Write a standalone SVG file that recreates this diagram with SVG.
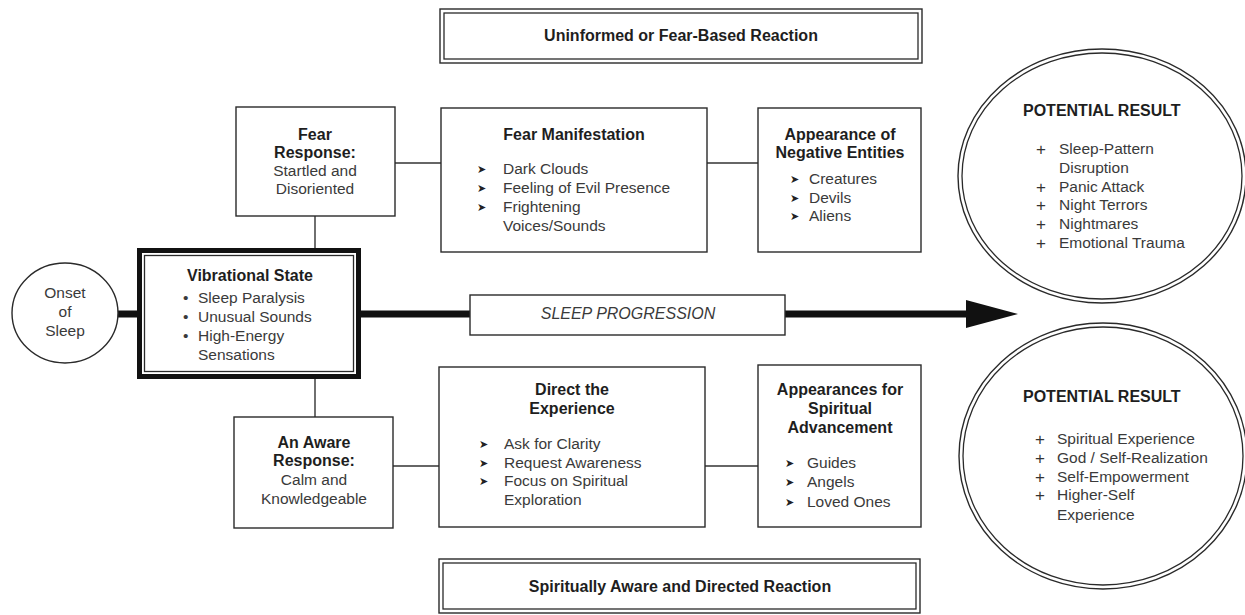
<svg xmlns="http://www.w3.org/2000/svg" width="1245" height="615" viewBox="0 0 1245 615">
<style>
  .box{fill:#fff;stroke:#2a2a2a;stroke-width:1.4}
  .thin{fill:none;stroke:#2a2a2a;stroke-width:1.3}
  .conn{fill:none;stroke:#333;stroke-width:1.4}
  .thick{fill:none;stroke:#111;stroke-width:7}
  text{font-family:"Liberation Sans",Arial,sans-serif;font-size:15.5px;fill:#3a3a3a}
  .b{font-weight:bold;font-size:16px;fill:#1e1e1e}
  .c{text-anchor:middle}
  .ar{font-family:"DejaVu Sans",sans-serif;font-size:11px;fill:#222}
  .pl{font-size:17px;fill:#333}
  .it{font-style:italic;font-size:16px}
</style>
<defs>
  <marker id="head" markerUnits="userSpaceOnUse" markerWidth="54" markerHeight="30" refX="2" refY="15" orient="auto">
    <polygon points="0,1 52,15 0,29" fill="#111"/>
  </marker>
</defs>
<rect width="1245" height="615" fill="#fff"/>

<g id="connectors">
  <path class="thick" d="M116,314 H968" marker-end="url(#head)"/>
  <path class="conn" d="M315,216 V249"/>
  <path class="conn" d="M315,379 V417"/>
  <path class="conn" d="M395,163 H441"/>
  <path class="conn" d="M707,163 H758"/>
  <path class="conn" d="M393,466 H439"/>
  <path class="conn" d="M705,466 H758"/>
</g>

<g id="banner-top">
  <rect class="box" x="440" y="9" width="482" height="54"/>
  <rect class="thin" x="444" y="13" width="474" height="46"/>
  <text class="b c" x="681" y="41">Uninformed or Fear-Based Reaction</text>
</g>

<g id="fear-response">
  <rect class="box" x="236" y="107" width="159" height="109"/>
  <text class="b c" x="315" y="140">Fear</text>
  <text class="b c" x="315" y="158">Response:</text>
  <text class="c" x="315" y="176">Startled and</text>
  <text class="c" x="315" y="194">Disoriented</text>
</g>

<g id="fear-manifestation">
  <rect class="box" x="441" y="108" width="266" height="144"/>
  <text class="b c" x="574" y="140">Fear Manifestation</text>
  <text class="ar" x="477" y="173">➤</text>
  <text x="503" y="174">Dark Clouds</text>
  <text class="ar" x="477" y="192">➤</text>
  <text x="503" y="193">Feeling of Evil Presence</text>
  <text class="ar" x="477" y="211">➤</text>
  <text x="503" y="212">Frightening</text>
  <text x="503" y="231">Voices/Sounds</text>
</g>

<g id="negative-entities">
  <rect class="box" x="758" y="108" width="163" height="144"/>
  <text class="b c" x="840" y="140">Appearance of</text>
  <text class="b c" x="840" y="158">Negative Entities</text>
  <text class="ar" x="790" y="183">➤</text>
  <text x="809" y="184">Creatures</text>
  <text class="ar" x="790" y="202">➤</text>
  <text x="809" y="203">Devils</text>
  <text class="ar" x="790" y="220">➤</text>
  <text x="809" y="221">Aliens</text>
</g>

<g id="onset">
  <ellipse class="box" cx="65" cy="313" rx="53" ry="50"/>
  <text class="c" x="65" y="298">Onset</text>
  <text class="c" x="65" y="317">of</text>
  <text class="c" x="65" y="336">Sleep</text>
</g>

<g id="vibrational-state">
  <rect x="139.5" y="250.5" width="219" height="126" fill="#fff" stroke="#111" stroke-width="5"/>
  <rect class="thin" x="144.5" y="255.5" width="209" height="116"/>
  <text class="b c" x="250" y="281">Vibrational State</text>
  <text x="183" y="303">•</text>
  <text x="198" y="303">Sleep Paralysis</text>
  <text x="183" y="322">•</text>
  <text x="198" y="322">Unusual Sounds</text>
  <text x="183" y="341">•</text>
  <text x="198" y="341">High-Energy</text>
  <text x="198" y="360">Sensations</text>
</g>

<g id="sleep-progression">
  <rect class="box" x="470" y="295" width="315" height="40"/>
  <text class="it c" x="628" y="319">SLEEP PROGRESSION</text>
</g>

<g id="aware-response">
  <rect class="box" x="234" y="417" width="159" height="111"/>
  <text class="b c" x="314" y="448">An Aware</text>
  <text class="b c" x="314" y="466">Response:</text>
  <text class="c" x="314" y="485">Calm and</text>
  <text class="c" x="314" y="504">Knowledgeable</text>
</g>

<g id="direct-experience">
  <rect class="box" x="439" y="367" width="266" height="160"/>
  <text class="b c" x="572" y="395">Direct the</text>
  <text class="b c" x="572" y="414">Experience</text>
  <text class="ar" x="479" y="448">➤</text>
  <text x="504" y="449">Ask for Clarity</text>
  <text class="ar" x="479" y="467">➤</text>
  <text x="504" y="468">Request Awareness</text>
  <text class="ar" x="479" y="485">➤</text>
  <text x="504" y="486">Focus on Spiritual</text>
  <text x="504" y="505">Exploration</text>
</g>

<g id="spiritual-advancement">
  <rect class="box" x="758" y="365" width="163" height="162"/>
  <text class="b c" x="840" y="395">Appearances for</text>
  <text class="b c" x="840" y="414">Spiritual</text>
  <text class="b c" x="840" y="433">Advancement</text>
  <text class="ar" x="785" y="467">➤</text>
  <text x="807" y="468">Guides</text>
  <text class="ar" x="785" y="486">➤</text>
  <text x="807" y="487">Angels</text>
  <text class="ar" x="785" y="506">➤</text>
  <text x="807" y="507">Loved Ones</text>
</g>

<g id="banner-bottom">
  <rect class="box" x="439" y="559" width="481" height="54"/>
  <rect class="thin" x="443" y="563" width="473" height="46"/>
  <text class="b c" x="680" y="592">Spiritually Aware and Directed Reaction</text>
</g>

<g id="result-fear">
  <ellipse class="box" cx="1102" cy="176" rx="144" ry="127"/>
  <ellipse class="thin" cx="1102" cy="176" rx="140" ry="123"/>
  <text class="b" x="1023" y="116">POTENTIAL RESULT</text>
  <text class="pl" x="1036" y="155">+</text>
  <text x="1059" y="154">Sleep-Pattern</text>
  <text x="1059" y="173">Disruption</text>
  <text class="pl" x="1036" y="193">+</text>
  <text x="1059" y="192">Panic Attack</text>
  <text class="pl" x="1036" y="211">+</text>
  <text x="1059" y="210">Night Terrors</text>
  <text class="pl" x="1036" y="230">+</text>
  <text x="1059" y="229">Nightmares</text>
  <text class="pl" x="1036" y="249">+</text>
  <text x="1059" y="248">Emotional Trauma</text>
</g>

<g id="result-aware">
  <ellipse class="box" cx="1103" cy="456" rx="144" ry="133"/>
  <ellipse class="thin" cx="1103" cy="456" rx="140" ry="129"/>
  <text class="b" x="1023" y="402">POTENTIAL RESULT</text>
  <text class="pl" x="1035" y="445">+</text>
  <text x="1057" y="444">Spiritual Experience</text>
  <text class="pl" x="1035" y="464">+</text>
  <text x="1057" y="463">God / Self-Realization</text>
  <text class="pl" x="1035" y="483">+</text>
  <text x="1057" y="482">Self-Empowerment</text>
  <text class="pl" x="1035" y="501">+</text>
  <text x="1057" y="500">Higher-Self</text>
  <text x="1057" y="520">Experience</text>
</g>
</svg>
